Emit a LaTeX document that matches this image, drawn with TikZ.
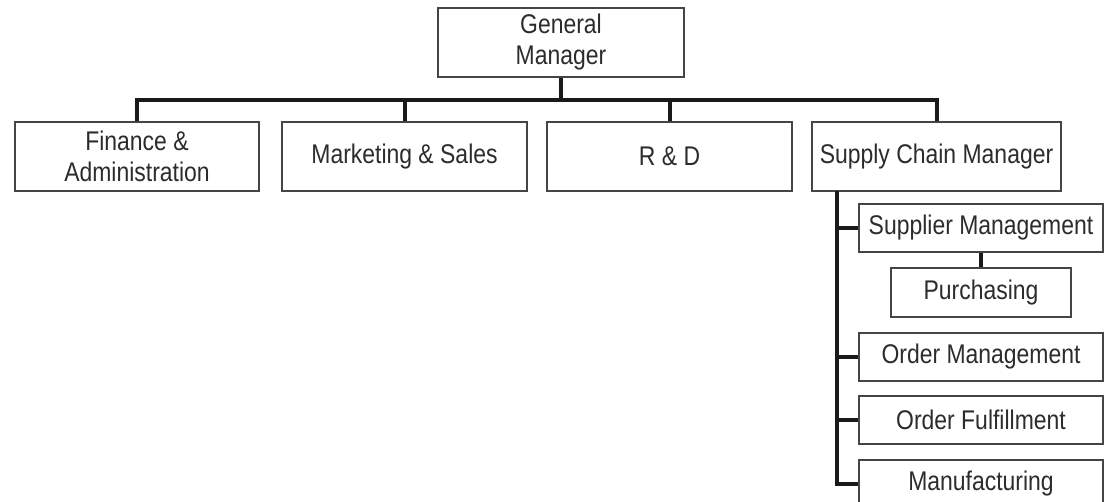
\documentclass[tikz,border=0pt]{standalone}
\usepackage{fontspec}
\setmainfont{Liberation Sans}[FakeStretch=0.85]
\definecolor{ink}{HTML}{2C2C2C}
\definecolor{frame}{HTML}{454545}
\definecolor{wire}{HTML}{1A1A1A}
\begin{document}
\begin{tikzpicture}[x=1pt,y=-1pt,
  unit/.style={draw=frame, line width=1.3pt, text=ink, align=center,
    inner sep=0pt, font=\fontsize{27}{31}\selectfont},
  conn/.style={draw=wire, line width=4pt, line join=miter, line cap=butt}]
  % canvas
  \path[use as bounding box, clip] (0,0) rectangle (1110,502);
  \fill[white] (0,0) rectangle (1110,502);

  % top level
  \node[unit, minimum width=246pt, minimum height=69pt] (gm) at (561,42.5) {General\\Manager};

  % departments
  \node[unit, minimum width=244pt, minimum height=69pt] (fin) at (137,156.5) {Finance \&\\Administration};
  \node[unit, minimum width=245pt, minimum height=69pt] (mkt) at (404.5,156.5) {Marketing \& Sales};
  \node[unit, minimum width=245pt, minimum height=69pt] (rd)  at (669.5,156.5) {R \& D};
  \node[unit, minimum width=249pt, minimum height=69pt] (scm) at (936.5,156.5) {Supply Chain Manager};

  % supply chain functions
  \node[unit, minimum width=244pt, minimum height=48pt] (sup) at (981,228) {Supplier Management};
  \node[unit, minimum width=180pt, minimum height=49pt] (pur) at (981,292.5) {Purchasing};
  \node[unit, minimum width=244pt, minimum height=48pt] (om)  at (981,357) {Order Management};
  \node[unit, minimum width=244pt, minimum height=48pt] (of)  at (981,420) {Order Fulfillment};
  \node[unit, minimum width=244pt, minimum height=48pt] (mfg) at (981,484) {Manufacturing};

  % connectors
  \coordinate (bus) at (0,100);
  \coordinate (spine) at (837,191);

  \draw[conn] (gm.south) -- (gm.south |- bus);
  \draw[conn] (fin.north) -- (fin.north |- bus) -- (scm.north |- bus) -- (scm.north);
  \draw[conn] (mkt.north) -- (mkt.north |- bus);
  \draw[conn] (rd.north) -- (rd.north |- bus);

  \draw[conn] (spine) |- (mfg.west);
  \draw[conn] (sup.west) -- (sup.west -| spine);
  \draw[conn] (om.west) -- (om.west -| spine);
  \draw[conn] (of.west) -- (of.west -| spine);
  \draw[conn] (sup.south) -- (pur.north);
\end{tikzpicture}
\end{document}
